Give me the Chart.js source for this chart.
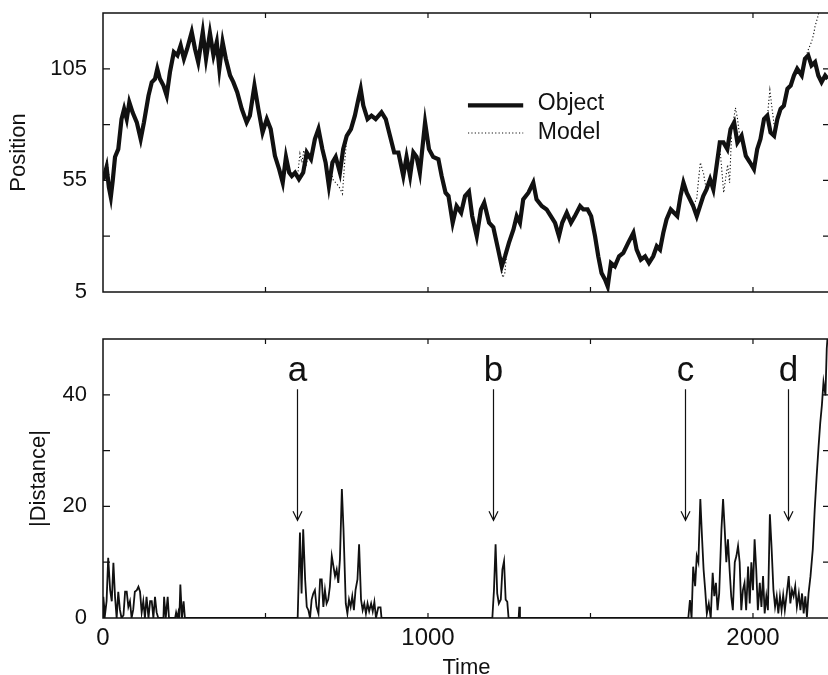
<!DOCTYPE html>
<html><head><meta charset="utf-8">
<script src="https://cdn.jsdelivr.net/npm/chart.js@4.4.1/dist/chart.umd.min.js"></script>
<style>
html,body{margin:0;padding:0;background:#fff;overflow:hidden;width:828px;height:675px;position:relative;}
canvas{position:absolute;left:0;}
#c1{top:0}
#c2{top:320px}
</style></head><body>
<canvas id="c1" width="832" height="300"></canvas>
<canvas id="c2" width="832" height="361"></canvas>
<script>
// ---------- data ----------
const objectTime = [0,11,18,24,30,37,47,57,65,73,81,91,104,116,126,140,150,160,167,175,186,196,206,218,229,239,249,259,273,283,293,307,317,329,340,350,358,368,378,391,401,413,427,442,452,466,478,491,504,516,529,542,553,563,573,581,591,603,616,627,640,652,663,675,685,695,706,716,729,739,750,763,775,786,793,801,814,826,839,857,870,883,896,909,924,934,945,955,965,975,991,1003,1016,1032,1042,1054,1063,1076,1088,1102,1114,1126,1136,1150,1163,1173,1188,1201,1216,1227,1237,1249,1263,1273,1283,1293,1309,1324,1334,1350,1365,1378,1391,1403,1413,1427,1440,1452,1468,1478,1491,1502,1514,1524,1534,1545,1553,1563,1575,1588,1601,1616,1632,1642,1655,1668,1680,1693,1704,1714,1724,1734,1747,1757,1767,1777,1786,1796,1806,1816,1827,1837,1847,1857,1868,1878,1888,1898,1909,1921,1931,1942,1952,1965,1978,1991,2003,2013,2023,2034,2044,2054,2065,2075,2085,2095,2106,2116,2126,2136,2150,2160,2170,2180,2191,2201,2211,2222,2230];
const objectPosition = [55,61,52,47.5,55,65.5,69,82.5,87,82.5,90,85.5,81,73.5,81,93,99,100.5,105,100.5,97.5,93,103.5,112.5,111,115.5,109.5,114,121.5,114,108,121.5,109.5,121,111,117,105,117,109.5,102,99,94.5,87,81,84,97.5,87,76.5,82.5,78,66,60,54,65.5,58.5,57,58.5,55.5,58.5,67.5,64.5,73.5,78,69,63,52.5,63,65.5,58.5,69,75,78,84,91.5,96,88.5,82.5,84,82.5,85.5,82.5,75,67.5,67.5,57,65.5,57,67.5,65.5,58.5,81,69,65.5,64.5,57,49.5,48,36,43.5,40.5,48,50,39,30,42,45,36,34,24,16.5,21,27,33,39,36,46.5,49.5,54,46.5,43.5,42,39,36,30,36,40.5,36,39,43.5,42,42,39,30,21,13.5,10.5,7.5,18,16.5,21,22.5,27,31.5,24,19.5,21,18,21,25.5,24,31.5,37.5,42,40.5,39,48,54,49.5,46.5,43.5,39,43.5,48,51,55.5,51,61.5,72,72,69,78,81,72,75,66,63,60,69,73.5,82.5,84,76.5,75,82.5,87,88.5,96,97.5,102,105,102,109.5,111,106.5,108,102,99,102,100.5];

// Model: only the stretches where it is visible apart from the Object (null = break)
const modelTime = [5,12,20,21, 598,606,612,618,624,632,633, 700,709,719,729,737,743,750,751, 1216,1224,1230,1236,1242,1243, 1818,1827,1833,1838,1848,1855,1856, 1898,1905,1910,1916,1922,1928,1934,1935, 1938,1946,1952,1958,1959, 2044,2052,2058,2065,2066, 2160,2170,2180,2186,2191,2199,2207,2217,2230];
const modelPosition = [56,64.5,55,null, 56,67,63,68.5,61,66,null, 60,55,53.5,51.5,49,62,74,null, 23,17,11.5,13,22,null, 44,47,56,63,58,52,null, 70,58,49.5,56,62,54,75,null, 80,87.5,83,76,null, 83,95.5,88,80,null, 109,113.5,117,120,124,128,133,141,151];

const distanceTime = [0,1,6,11,16,22,27,32,37,42,47,52,57,63,68,73,78,83,88,93,98,104,109,114,119,124,129,134,140,145,150,155,160,165,170,186,188,193,199,203,222,225,229,232,235,238,243,248,252,599,606,611,616,622,627,632,637,642,647,652,657,663,668,673,678,683,688,693,698,704,709,714,719,724,729,735,740,747,752,757,762,767,772,777,783,788,794,799,804,809,814,819,825,830,835,840,847,854,857,1198,1203,1208,1213,1218,1224,1229,1234,1239,1244,1248,1279,1281,1283,1801,1806,1811,1816,1822,1827,1832,1838,1843,1848,1853,1858,1864,1870,1876,1881,1886,1891,1896,1903,1908,1913,1918,1923,1928,1933,1938,1944,1949,1954,1959,1964,1969,1974,1979,1985,1990,1995,2000,2005,2010,2015,2021,2026,2031,2036,2041,2046,2052,2057,2063,2068,2073,2078,2083,2088,2093,2098,2104,2110,2115,2120,2125,2130,2135,2141,2146,2151,2156,2161,2166,2171,2177,2184,2190,2196,2202,2207,2212,2217,2223,2227,2230];
const distanceValue = [0,3.8,0.5,3,10.8,5,3,9.9,3.8,0,4.7,1.5,0,0.5,4.7,4.7,2,3,0,1.5,4.7,5,5.6,4.7,1,3,0,3.8,0,3,3,0,3.8,1,0,0,3.8,0,3.8,0,0,1,0,1,0,6,0,3,0,0,15.3,4.4,15.9,6.9,2,1.4,0,3.3,4.4,5,2,0.8,6.9,6.9,2,5,2.6,3.3,5.6,11.1,9.3,7.5,8.7,6.3,10.5,23.1,15.9,2.6,0.8,3.3,2,3.9,1.4,5,6.9,13.2,3.3,1.4,2.6,0.8,2.6,1.2,2.6,1.2,2.9,0,1.9,1.9,0,0,5,13.2,4.4,2.6,3.3,8.7,10.2,3.3,2.9,0,0,2,0,0,3.2,0,9.2,5.7,11.1,10,21.3,14.7,8.7,5,0.8,2.6,0,8.1,3.9,6.3,1.4,4.4,15.9,21.3,15.9,10,14.1,8.7,3.9,1.4,10,11.1,12.9,10,1.4,5,6.3,1.4,9.2,2.6,10,5,14.1,8.7,1.4,6.3,2,7.5,0.8,3.9,1.4,18.6,12.9,5,2,3.9,0.8,3.9,1.4,4.1,1.4,4.4,7.5,2.6,5,3.9,5.7,2,4.4,1.4,4.4,0.8,3.9,0.2,4.4,7.5,12.3,19.5,25.5,30.9,35,38.1,42.3,39.9,48.3,50.7];

// ticks and labels
const timeTicks = [0,500,1000,1500,2000];
const timeLabels = [0,1000,2000];
const positionTicks = [5,30,55,80,105,130];
const positionLabels = [5,55,105];
const distanceTicks = [0,10,20,30,40,50];
const distanceLabels = [0,20,40];

// event markers
const markLabels = ['a','b','c','d'];
const markTimes = [598,1200,1791,2108];

// ---------- rendering ----------
const FONT = "'Liberation Sans', Arial, Helvetica, sans-serif";
const INK = '#111';
Chart.defaults.font.family = FONT;
Chart.defaults.color = INK;

const pts = (xs, ys) => xs.map((x, i) => ({x: x, y: ys[i]}));

const framePlugin = {
  id: 'frame',
  afterDraw(chart) {
    const {ctx, chartArea: a, scales} = chart;
    ctx.save();
    ctx.strokeStyle = INK;
    ctx.lineWidth = 1.5;
    ctx.strokeRect(a.left, a.top, a.right - a.left, a.bottom - a.top);
    ctx.lineWidth = 1.2;
    ctx.beginPath();
    scales.x.ticks.forEach(t => {
      const px = scales.x.getPixelForValue(t.value);
      if (px <= a.left + 1 || px >= a.right - 1) return;
      ctx.moveTo(px, a.bottom); ctx.lineTo(px, a.bottom - 5);
      ctx.moveTo(px, a.top); ctx.lineTo(px, a.top + 5);
    });
    scales.y.ticks.forEach(t => {
      const py = scales.y.getPixelForValue(t.value);
      if (py <= a.top + 1 || py >= a.bottom - 1) return;
      ctx.moveTo(a.left, py); ctx.lineTo(a.left + 7, py);
      ctx.moveTo(a.right, py); ctx.lineTo(a.right - 7, py);
    });
    ctx.stroke();
    ctx.restore();
  }
};

const legendPlugin = {
  id: 'insideLegend',
  afterDraw(chart) {
    const {ctx, chartArea: a} = chart;
    const w = a.right - a.left, h = a.bottom - a.top;
    const x0 = a.left + 0.502 * w, x1 = a.left + 0.578 * w, tx = a.left + 0.598 * w;
    const rows = [0.331, 0.43];
    chart.data.datasets.forEach((ds, i) => {
      const y = a.top + rows[i] * h;
      ctx.save();
      ctx.strokeStyle = ds.borderColor;
      ctx.lineWidth = ds.borderWidth;
      ctx.setLineDash(ds.borderDash || []);
      ctx.beginPath(); ctx.moveTo(x0, y); ctx.lineTo(x1, y); ctx.stroke();
      ctx.setLineDash([]);
      ctx.fillStyle = INK;
      ctx.font = '23px ' + FONT;
      ctx.textAlign = 'left';
      ctx.textBaseline = 'middle';
      ctx.fillText(ds.label, tx, y - (i === 0 ? 1.5 : 0));
      ctx.restore();
    });
  }
};

const ARROW_FROM = 41, ARROW_TO = 17.5, LABEL_BASE = 42.4;
const markPlugin = {
  id: 'marks',
  afterDatasetsDraw(chart) {
    const {ctx, scales: {x, y}} = chart;
    ctx.save();
    ctx.fillStyle = INK; ctx.strokeStyle = INK; ctx.lineWidth = 1.2;
    ctx.font = '35px ' + FONT;
    ctx.textAlign = 'center'; ctx.textBaseline = 'alphabetic';
    markLabels.forEach((lab, i) => {
      const px = Math.round(x.getPixelForValue(markTimes[i])) + 0.5;
      const yTop = y.getPixelForValue(ARROW_FROM), yTip = y.getPixelForValue(ARROW_TO);
      ctx.fillText(lab, px, y.getPixelForValue(LABEL_BASE));
      ctx.beginPath();
      ctx.moveTo(px, yTop); ctx.lineTo(px, yTip);
      ctx.moveTo(px - 4.5, yTip - 9); ctx.lineTo(px, yTip); ctx.lineTo(px + 4.5, yTip - 9);
      ctx.stroke();
    });
    ctx.restore();
  }
};

const noGrid = {display: false, drawTicks: false};
const fixX = h => s => { s.height = h; s.paddingLeft = 0; s.paddingRight = 0; };
const fixY = s => { s.width = 103; s.paddingTop = 0; s.paddingBottom = 0; };

new Chart(document.getElementById('c1'), {
  type: 'line',
  data: {
    datasets: [
      {label: 'Object', data: pts(objectTime, objectPosition), borderColor: INK, borderWidth: 4.2, pointRadius: 0, tension: 0, borderJoinStyle: 'miter'},
      {label: 'Model', data: pts(modelTime, modelPosition), borderColor: INK, borderWidth: 1.1, borderDash: [1.2, 2.2], pointRadius: 0, tension: 0}
    ]
  },
  options: {
    responsive: false, animation: false, devicePixelRatio: 1,
    layout: {padding: {top: 13, left: 0, right: 2, bottom: 0}},
    plugins: {legend: {display: false}, tooltip: {enabled: false}},
    scales: {
      x: {type: 'linear', min: 0, max: 2237, grid: noGrid, border: {display: false},
          afterBuildTicks: s => { s.ticks = timeTicks.map(v => ({value: v})); },
          afterFit: fixX(8),
          ticks: {display: false}},
      y: {type: 'linear', min: 5, max: 130, grid: noGrid, border: {display: false},
          afterBuildTicks: s => { s.ticks = positionTicks.map(v => ({value: v})); },
          afterFit: fixY,
          ticks: {padding: 16, color: INK, font: {size: 22}, autoSkip: false,
                  callback: v => positionLabels.includes(v) ? String(v) : ''},
          title: {display: true, text: 'Position', color: INK, font: {size: 22}, padding: {top: 6, bottom: 0}}}
    }
  },
  plugins: [framePlugin, legendPlugin]
});

new Chart(document.getElementById('c2'), {
  type: 'line',
  data: {
    datasets: [
      {label: '|Distance|', data: pts(distanceTime, distanceValue), borderColor: INK, borderWidth: 1.8, pointRadius: 0, tension: 0}
    ]
  },
  options: {
    responsive: false, animation: false, devicePixelRatio: 1,
    layout: {padding: {top: 19, left: 0, right: 2, bottom: 0}},
    plugins: {legend: {display: false}, tooltip: {enabled: false}},
    scales: {
      x: {type: 'linear', min: 0, max: 2237, grid: noGrid, border: {display: false},
          afterBuildTicks: s => { s.ticks = timeTicks.map(v => ({value: v})); },
          afterFit: fixX(63),
          ticks: {padding: 6, color: INK, font: {size: 24}, autoSkip: false, maxRotation: 0,
                  callback: v => timeLabels.includes(v) ? String(v) : ''},
          title: {display: true, text: 'Time', color: INK, font: {size: 22}, padding: {top: 0, bottom: 0}}},
      y: {type: 'linear', min: 0, max: 50, grid: noGrid, border: {display: false},
          afterBuildTicks: s => { s.ticks = distanceTicks.map(v => ({value: v})); },
          afterFit: fixY,
          ticks: {padding: 16, color: INK, font: {size: 22}, autoSkip: false,
                  callback: v => distanceLabels.includes(v) ? String(v) : ''},
          title: {display: true, text: '|Distance|', color: INK, font: {size: 22}, padding: {top: 26, bottom: 0}}}
    }
  },
  plugins: [framePlugin, markPlugin]
});
</script>
</body></html>
